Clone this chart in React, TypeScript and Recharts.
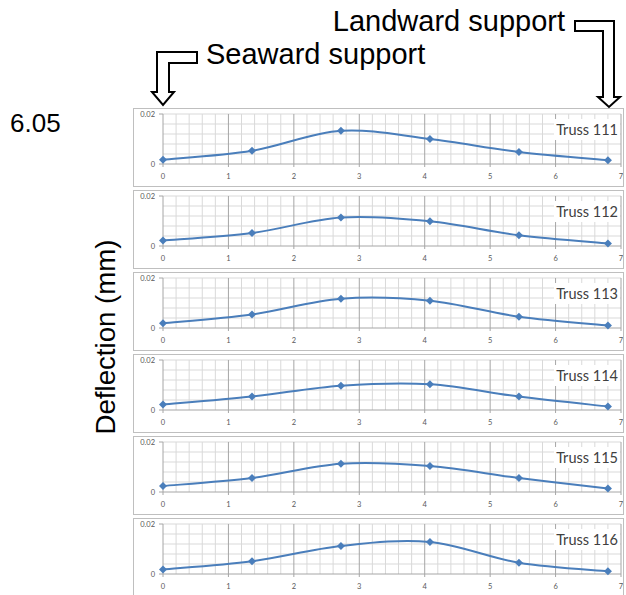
import { Line, LineChart, ReferenceLine, XAxis, YAxis } from "recharts";

// distance along the truss (m), same for every panel
const distances = [0, 1.36, 2.72, 4.08, 5.44, 6.8];

const truss111 = [0.0017, 0.0053, 0.0133, 0.01, 0.0048, 0.0015];
const truss112 = [0.0022, 0.0052, 0.0114, 0.0099, 0.0043, 0.001];
const truss113 = [0.0019, 0.0054, 0.0117, 0.0109, 0.0045, 0.001];
const truss114 = [0.0022, 0.0054, 0.0097, 0.0103, 0.0054, 0.0014];
const truss115 = [0.0024, 0.0056, 0.0113, 0.0104, 0.0056, 0.0014];
const truss116 = [0.0018, 0.0051, 0.0112, 0.0128, 0.0045, 0.0011];

const trussNames = ["Truss 111", "Truss 112", "Truss 113", "Truss 114", "Truss 115", "Truss 116"];
const trussSeries = [truss111, truss112, truss113, truss114, truss115, truss116];

const xTicks = [0, 1, 2, 3, 4, 5, 6, 7];
const yTicks = [0, 0.02];
const minorX = Array.from({ length: 35 }, (_, i) => +(i * 0.2).toFixed(1)).filter((v) => v % 1 !== 0);
const minorY = [0.004, 0.008, 0.012, 0.016, 0.02];

const BLUE = "#4a7ebb";
const PANEL_TOP = 108;
const PANEL_STEP = 82;

// Excel-style smoothed line (Catmull-Rom through the points)
function excelCurve(context: any) {
  let pts: number[][] = [];
  return {
    areaStart() {},
    areaEnd() {},
    lineStart() {
      pts = [];
    },
    point(x: number, y: number) {
      pts.push([+x, +y]);
    },
    lineEnd() {
      if (!pts.length) return;
      context.moveTo(pts[0][0], pts[0][1]);
      for (let i = 0; i < pts.length - 1; i++) {
        const p0 = pts[i - 1] || pts[i];
        const p1 = pts[i];
        const p2 = pts[i + 1];
        const p3 = pts[i + 2] || p2;
        context.bezierCurveTo(
          p1[0] + (p2[0] - p0[0]) / 6,
          p1[1] + (p2[1] - p0[1]) / 6,
          p2[0] - (p3[0] - p1[0]) / 6,
          p2[1] - (p3[1] - p1[1]) / 6,
          p2[0],
          p2[1]
        );
      }
    },
  };
}

const Diamond = (props: any) => {
  const { cx, cy, index } = props;
  if (cx == null || cy == null) return null;
  return (
    <path
      key={index}
      d={`M${cx},${cy - 4}L${cx + 4},${cy}L${cx},${cy + 4}L${cx - 4},${cy}Z`}
      fill={BLUE}
    />
  );
};

const tickStyle = { fontSize: 7.5, fill: "#595959", fontFamily: "Lato, 'Open Sans', sans-serif" };

function Panel({ name, values, top }: { name: string; values: number[]; top: number }) {
  const rows = distances.map((x, i) => ({ x, y: values[i] }));
  return (
    <div style={{ position: "absolute", left: 133, top, width: 491, height: 79 }}>
      <LineChart width={491} height={79} data={rows} margin={{ top: 6, right: 3, bottom: 0, left: 0 }}>
        <XAxis
          type="number"
          dataKey="x"
          domain={[0, 7]}
          ticks={xTicks}
          height={23}
          tick={tickStyle}
          tickSize={3}
          tickMargin={7}
          stroke="#a6a6a6"
        />
        <YAxis
          type="number"
          domain={[0, 0.02]}
          ticks={yTicks}
          width={30}
          tick={tickStyle}
          tickSize={4}
          tickMargin={4}
          stroke="#a6a6a6"
          tickFormatter={(v) => String(v)}
        />
        {minorX.map((v) => (
          <ReferenceLine key={`mx${v}`} x={v} stroke="#d9d9d9" />
        ))}
        {minorY.map((v) => (
          <ReferenceLine key={`my${v}`} y={v} stroke="#d9d9d9" />
        ))}
        {xTicks.slice(1).map((v) => (
          <ReferenceLine key={`x${v}`} x={v} stroke="#a6a6a6" />
        ))}
        <Line
          type={excelCurve as any}
          dataKey="y"
          stroke={BLUE}
          strokeWidth={2}
          dot={Diamond}
          activeDot={false}
          isAnimationActive={false}
        />
      </LineChart>
      <div
        style={{
          position: "absolute",
          inset: 0,
          border: "1px solid #bfbfbf",
          boxSizing: "border-box",
          pointerEvents: "none",
        }}
      />
      <div
        style={{
          position: "absolute",
          right: 4,
          top: 11,
          background: "#fff",
          padding: "0 2px",
          fontFamily: "Lato, 'Open Sans', sans-serif",
          fontSize: 14.5,
          lineHeight: "21px",
          color: "#404040",
        }}
      >
        {name}
      </div>
    </div>
  );
}

export default function App() {
  const font = "'Liberation Sans', Arial, sans-serif";
  return (
    <div style={{ position: "absolute", left: 0, top: 0, width: 626, height: 595, background: "#fff" }}>
      {trussNames.map((name, i) => (
        <Panel key={name} name={name} values={trussSeries[i]} top={PANEL_TOP + i * PANEL_STEP} />
      ))}
      <svg
        width={626}
        height={595}
        style={{ position: "absolute", left: 0, top: 0, pointerEvents: "none" }}
      >
        <text x={10} y={132} fontSize={26} fontFamily={font} fill="#000">
          6.05
        </text>
        <text x={565} y={31} fontSize={29} fontFamily={font} fill="#000" textAnchor="end">
          Landward support
        </text>
        <text x={206} y={64} fontSize={29} fontFamily={font} fill="#000">
          Seaward support
        </text>
        <text
          transform="translate(115,337) rotate(-90)"
          textAnchor="middle"
          fontSize={27}
          fontFamily={font}
          fill="#000"
          textLength={195}
          lengthAdjust="spacingAndGlyphs"
        >
          Deflection (mm)
        </text>
        <polygon
          points="197,52 157,52 157,92 152,92 163,105 174,92 169,92 169,63 197,63"
          fill="#fff"
          stroke="#000"
          strokeWidth={2}
        />
        <polygon
          points="575,21 614,21 614,97 620,97 609,107 598,97 603,97 603,31 575,31"
          fill="#fff"
          stroke="#000"
          strokeWidth={2}
        />
      </svg>
    </div>
  );
}
